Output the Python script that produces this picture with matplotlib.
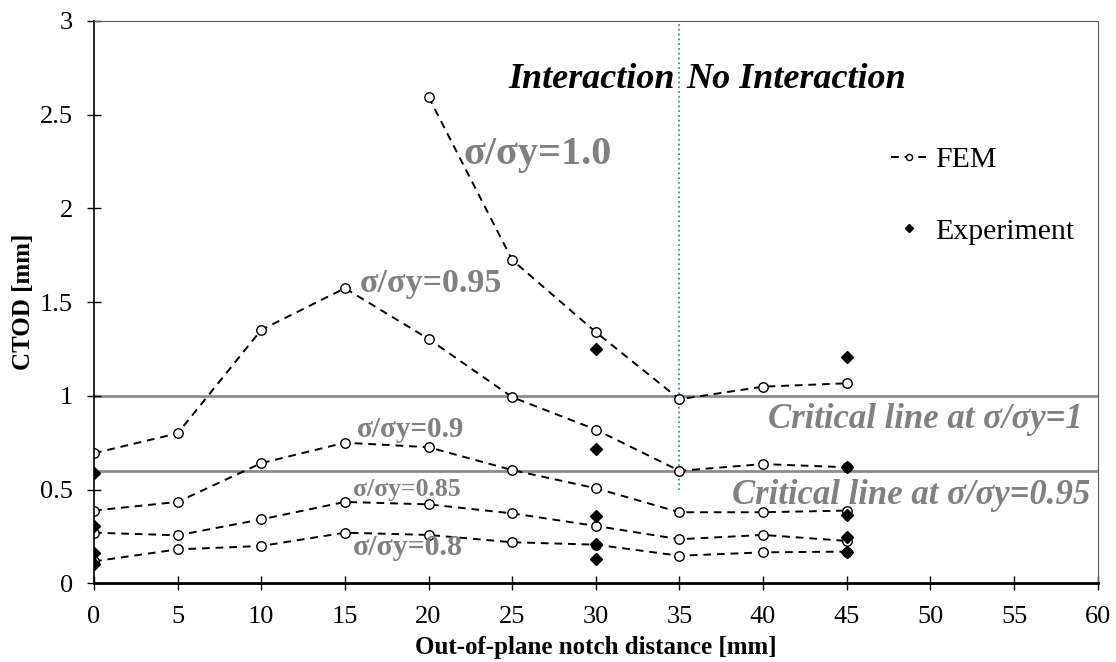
import matplotlib
matplotlib.use("Agg")
import matplotlib.pyplot as plt

plt.rcParams['font.family'] = ['Liberation Serif', 'DejaVu Serif']

# FEM results (CTOD vs notch distance) for each load level
x_all = [0, 5, 10, 15, 20, 25, 30, 35, 40, 45]
x_s100 = [20, 25, 30, 35, 40, 45]
fem_s100 = [2.595, 1.725, 1.34, 0.982, 1.049, 1.067]
fem_s095 = [0.694, 0.80, 1.352, 1.574, 1.304, 0.993, 0.82, 0.60, 0.636, 0.619]
fem_s090 = [0.388, 0.434, 0.641, 0.750, 0.726, 0.604, 0.507, 0.379, 0.379, 0.388]
fem_s085 = [0.27, 0.256, 0.341, 0.434, 0.421, 0.373, 0.306, 0.235, 0.258, 0.226]
fem_s080 = [0.117, 0.181, 0.199, 0.27, 0.258, 0.219, 0.206, 0.147, 0.165, 0.169]

# Experimental results
exp_x = [0, 0, 0, 0, 30, 30, 30, 30, 30, 45, 45, 45, 45, 45]
exp_y = [0.587, 0.306, 0.163, 0.103,
         1.25, 0.716, 0.359, 0.208, 0.128,
         1.207, 0.619, 0.364, 0.249, 0.165]

crit_levels = [1.0, 0.597]
interaction_limit = 35

fig = plt.figure(figsize=(11.16, 6.62), dpi=100)
ax = fig.add_axes([0.0842, 0.1189, 0.8994, 0.8494])

line_kw = dict(color='black', linestyle='--', dashes=(4, 3), linewidth=1.4,
               marker='o', markersize=6.8, markerfacecolor='white',
               markeredgecolor='black', markeredgewidth=1.0)

ax.plot(x_s100, fem_s100, **line_kw)
ax.plot(x_all, fem_s095, **line_kw)
ax.plot(x_all, fem_s090, **line_kw)
ax.plot(x_all, fem_s085, **line_kw)
ax.plot(x_all, fem_s080, label='FEM', **line_kw)
ax.plot(exp_x, exp_y, linestyle='none', marker='D', markersize=6,
        color='black', label='Experiment', zorder=4)

# critical lines and interaction boundary
for c in crit_levels:
    ax.axhline(c, color='#8c8c8c', linewidth=2, zorder=1)
ax.plot([interaction_limit, interaction_limit], [0.5, 3], color='#3d85d0',
        linestyle=':', linewidth=1.3, zorder=1)

gray = '#808080'
ax.text(22.1, 2.29, 'σ/σy=1.0', color=gray, fontsize=29, fontweight='bold', va='center')
ax.text(15.9, 1.60, 'σ/σy=0.95', color=gray, fontsize=24.5, fontweight='bold', va='center')
ax.text(15.7, 0.818, 'σ/σy=0.9', color=gray, fontsize=21, fontweight='bold', va='center')
ax.text(15.5, 0.503, 'σ/σy=0.85', color=gray, fontsize=18.5, fontweight='bold', va='center')
ax.text(15.5, 0.19, 'σ/σy=0.8', color=gray, fontsize=21.5, fontweight='bold', va='center')
ax.text(59.1, 0.875, 'Critical line at σ/σy=1', color=gray, fontsize=25,
        fontweight='bold', style='italic', ha='right', va='center')
ax.text(59.55, 0.47, 'Critical line at σ/σy=0.95', color=gray, fontsize=25,
        fontweight='bold', style='italic', ha='right', va='center')
ax.text(34.7, 2.69, 'Interaction', color='black', fontsize=26,
        fontweight='bold', style='italic', ha='right', va='center')
ax.text(35.4, 2.69, 'No Interaction', color='black', fontsize=26,
        fontweight='bold', style='italic', ha='left', va='center')

ax.set_xlim(0, 60)
ax.set_ylim(0, 3)
ax.set_xticks(range(0, 61, 5))
ax.set_yticks([0, 0.5, 1, 1.5, 2, 2.5, 3])
ax.set_yticklabels(['0', '0.5', '1', '1.5', '2', '2.5', '3'])
ax.tick_params(axis='both', labelsize=19, direction='inout', length=10, width=1)
ax.tick_params(axis='x', pad=11)
ax.tick_params(axis='y', pad=10)

for s in ['top', 'right']:
    ax.spines[s].set_linewidth(0.8)
    ax.spines[s].set_color('#595959')
ax.spines['left'].set_linewidth(1.2)
ax.spines['bottom'].set_linewidth(2)

ax.set_xlabel('Out-of-plane notch distance [mm]', fontsize=18, fontweight='bold', labelpad=6)
ax.set_ylabel('CTOD [mm]', fontsize=18, fontweight='bold', labelpad=4)

ax.legend(loc='upper left', bbox_to_anchor=(0.779, 0.804), frameon=False,
          fontsize=21.5, labelspacing=1.5, handlelength=1.2, handletextpad=0.3,
          markerscale=0.65, borderpad=0)

fig.savefig('out.png', dpi=100)
